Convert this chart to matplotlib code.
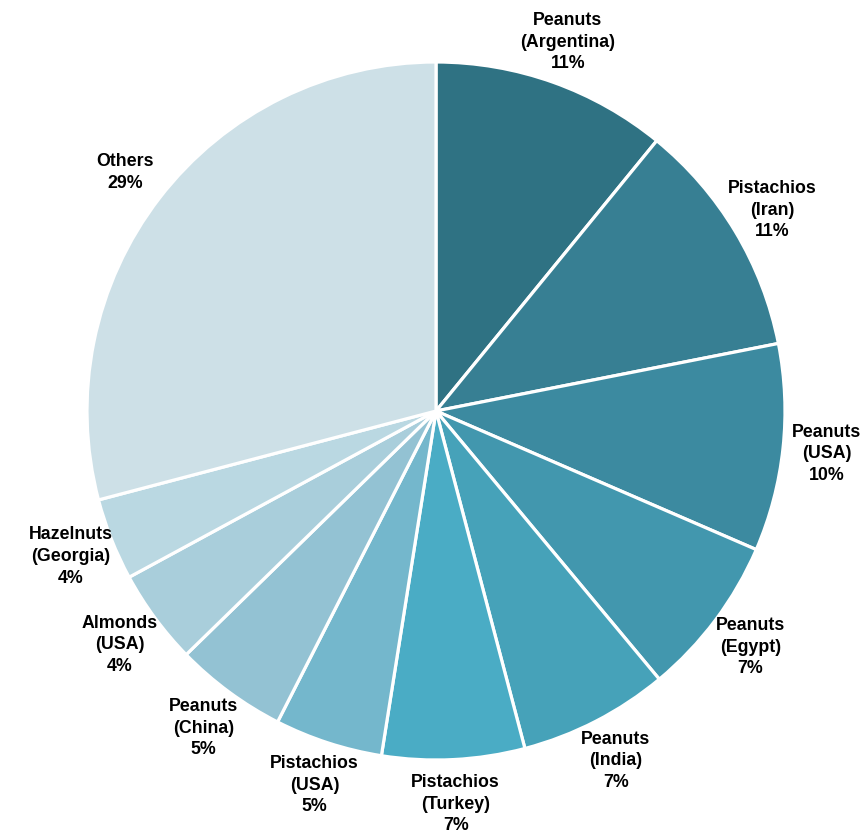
import matplotlib.pyplot as plt
import numpy as np

plt.rcParams['font.family'] = ['Liberation Sans', 'DejaVu Sans']

# доли рынка, %
labels = ["Peanuts\n(Argentina)", "Pistachios\n(Iran)", "Peanuts\n(USA)", "Peanuts\n(Egypt)",
          "Peanuts\n(India)", "Pistachios\n(Turkey)", "Pistachios\n(USA)", "Peanuts\n(China)",
          "Almonds\n(USA)", "Hazelnuts\n(Georgia)", "Others"]
values = [10.9, 11.0, 9.6, 7.45, 6.95, 6.6, 5.0, 5.2, 4.4, 3.8, 29.1]
colors = ["#2f7283", "#377f93", "#3c8aa0", "#4297ae", "#46a2b9", "#4aacc5",
          "#74b7cc", "#93c2d3", "#a9cedb", "#bad8e2", "#cde0e7"]

fig = plt.figure(figsize=(8.61, 8.37), dpi=100)
ax = fig.add_axes([87 / 861, (837 - 412 - 349) / 837, 698 / 861, 698 / 837])

wedges, _ = ax.pie(values, colors=colors, startangle=90, counterclock=False, radius=1,
                   wedgeprops=dict(edgecolor="white", linewidth=2.3))

for w, lab, v in zip(wedges, labels, values):
    ang = np.deg2rad((w.theta1 + w.theta2) / 2)
    x, y = 1.125 * np.cos(ang), 1.125 * np.sin(ang)
    ax.text(x, y, f"{lab}\n{round(v)}%", ha="center", va="center",
            fontsize=12.8, fontweight="bold", linespacing=1.35)

ax.set_xlim(-1, 1)
ax.set_ylim(-1, 1)
ax.set_aspect("equal")
ax.axis("off")

fig.savefig("out.png", dpi=100)
